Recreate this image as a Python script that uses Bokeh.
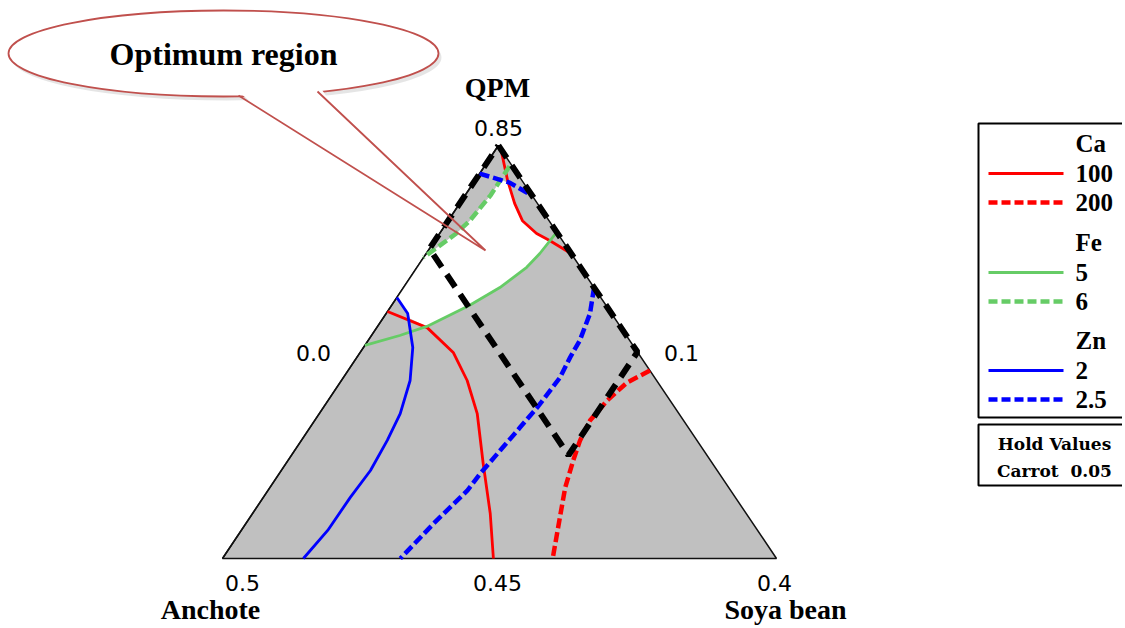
from bokeh.plotting import figure
from bokeh.models import Range1d
from bokeh.core.properties import value
from bokeh.embed import file_html
from bokeh.resources import INLINE

# ---------------- data (pseudo-component fractions: QPM = top, Soya bean = right) -------------
ca100_a_qpm = [0.988, 0.915, 0.860, 0.818, 0.787, 0.770, 0.741]
ca100_a_soya = [0.011, 0.059, 0.099, 0.134, 0.175, 0.207, 0.257]
ca100_b_qpm = [0.598, 0.559, 0.499, 0.431, 0.351, 0.230, 0.109, 0.0]
ca100_b_soya = [0.0, 0.091, 0.168, 0.227, 0.285, 0.356, 0.429, 0.489]
ca200_qpm = [0.455, 0.426, 0.383, 0.334, 0.286, 0.237, 0.172, 0.109, 0.0]
ca200_soya = [0.545, 0.518, 0.504, 0.497, 0.503, 0.515, 0.533, 0.556, 0.596]

fe5_qpm = [0.516, 0.540, 0.562, 0.613, 0.656, 0.705, 0.7385, 0.790]
fe5_soya = [0.0, 0.051, 0.089, 0.141, 0.174, 0.198, 0.205, 0.210]
fe6_qpm = [0.950, 0.880, 0.818, 0.787, 0.729]
fe6_soya = [0.045, 0.046, 0.039, 0.030, 0.0]

zn2_qpm = [0.632, 0.593, 0.511, 0.431, 0.351, 0.286, 0.213, 0.148, 0.068, 0.0]
zn2_soya = [0.0, 0.039, 0.089, 0.124, 0.146, 0.155, 0.161, 0.157, 0.156, 0.146]
zn25_a_qpm = [0.932, 0.910, 0.879]
zn25_a_soya = [0.0, 0.065, 0.121]
zn25_b_qpm = [0.656, 0.593, 0.528, 0.487, 0.438, 0.407, 0.366, 0.317, 0.262, 0.206, 0.165, 0.085, 0.0]
zn25_b_soya = [0.344, 0.368, 0.382, 0.385, 0.391, 0.389, 0.386, 0.379, 0.371, 0.363, 0.360, 0.339, 0.321]

# optimum (white) region boundary
opt_qpm = [0.729, 0.632, 0.593, 0.581, 0.561, 0.613, 0.656, 0.705, 0.7385, 0.770,
           0.787, 0.818, 0.860, 0.910, 0.917, 0.880, 0.818, 0.787, 0.729]
opt_soya = [0.0, 0.0, 0.039, 0.049, 0.090, 0.141, 0.174, 0.198, 0.205, 0.207,
            0.175, 0.134, 0.099, 0.062, 0.046, 0.046, 0.039, 0.030, 0.0]

# constraint region (black dashed): vertices
cons_qpm = [1.0, 0.5, 0.25, 0.75, 1.0]
cons_soya = [0.0, 0.5, 0.5, 0.0, 0.0]

tick_labels = ["0.85", "0.0", "0.1", "0.5", "0.45", "0.4"]
axis_titles = ["QPM", "Anchote", "Soya bean"]
legend_groups = ["Ca", "Fe", "Zn"]
legend_levels = [["100", "200"], ["5", "6"], ["2", "2.5"]]
legend_colors = ["#ff0000", "#66cc66", "#0000ff"]
hold_lines = ["Hold Values", "Carrot\u00a0 0.05"]

# ---------------- layout helpers ----------------
TOPX = 0.498


def tern(qpm, soya):
    return [s + TOPX * q for q, s in zip(qpm, soya)], list(qpm)


def px(x, y):
    # picture pixel -> data coordinates
    return (x - 222) / 554.0, (558 - y) / 413.0


W, H = 1122, 626
p = figure(width=W, height=H, output_backend="svg", toolbar_location=None,
           x_range=Range1d(px(0, 0)[0], px(W, 0)[0]),
           y_range=Range1d(px(0, H)[1], px(0, 0)[1]),
           min_border=0, outline_line_color=None)
p.axis.visible = False
p.grid.visible = False
p.background_fill_color = "white"
p.border_fill_color = "white"

# triangle background
tx, ty = tern([0, 0, 1], [0, 1, 0])
p.patch(tx, ty, fill_color="#c0c0c0", line_color="#111111", line_width=1.5)

# optimum region
ox, oy = tern(opt_qpm, opt_soya)
p.patch(ox, oy, fill_color="white", line_color=None)
lx, ly = tern([0.0, 1.0], [0.0, 0.0])
p.line(lx, ly, line_color="#111111", line_width=1.5)

# contours
RED, GREEN, BLUE = legend_colors


def curve(q, s, color, dashed):
    xs, ys = tern(q, s)
    if dashed:
        p.line(xs, ys, line_color=color, line_width=4.5, line_dash="10 4", line_join="round")
    else:
        p.line(xs, ys, line_color=color, line_width=2.8, line_join="round")


curve(ca100_a_qpm, ca100_a_soya, RED, False)
curve(ca100_b_qpm, ca100_b_soya, RED, False)
curve(ca200_qpm, ca200_soya, RED, True)
curve(fe5_qpm, fe5_soya, GREEN, False)
curve(fe6_qpm, fe6_soya, GREEN, True)
curve(zn2_qpm, zn2_soya, BLUE, False)
curve(zn25_a_qpm, zn25_a_soya, BLUE, True)
curve(zn25_b_qpm, zn25_b_soya, BLUE, True)

# constraint polygon
cx, cy = tern(cons_qpm, cons_soya)
p.line(cx, cy, line_color="black", line_width=6, line_dash="15 9")

# ---------------- callout ----------------
ecx, ecy = px(223, 53)
ew, eh = 430 / 554.0, 86 / 413.0
sx, sy = px(226, 57)
p.ellipse([sx], [sy], width=ew, height=eh, fill_color="#000000", fill_alpha=0.10, line_color=None)
p.ellipse([ecx], [ecy], width=ew, height=eh, fill_color="white", line_color="#c0504d", line_width=1.8)
b1 = px(238, 95); b2 = px(317, 91); tip = px(485, 250)
cover = [px(236, 90), px(319, 86), px(334, 107), px(263, 111)]
p.patch([c[0] for c in cover], [c[1] for c in cover], fill_color="white", line_color=None)
p.line([b1[0], tip[0], b2[0]], [b1[1], tip[1], b2[1]], line_color="#c0504d", line_width=1.8)
t = px(223, 53)
p.text([t[0]], [t[1]], text=["Optimum region"], text_font=value("Liberation Serif"),
       text_font_style="bold", text_font_size="32px", text_align="center",
       text_baseline="middle", text_color="black")

# ---------------- labels ----------------
tick_pos = [(498, 127), (313, 352), (681, 352), (242, 582), (497, 582), (774, 582)]
tpx = [px(*a) for a in tick_pos]
p.text([a[0] for a in tpx], [a[1] for a in tpx], text=tick_labels,
       text_font=value("DejaVu Sans"), text_font_size="22px", text_align="center",
       text_baseline="middle", text_color="black")

title_pos = [(497, 87), (210, 609), (785, 609)]
ttp = [px(*a) for a in title_pos]
p.text([a[0] for a in ttp], [a[1] for a in ttp], text=axis_titles,
       text_font=value("Liberation Serif"), text_font_style="bold", text_font_size="28px",
       text_align="center", text_baseline="middle", text_color="black")

# ---------------- legend ----------------
bx0, by0 = px(978, 123)
bx1, by1 = px(1140, 417)
p.quad(left=[bx0], right=[bx1], top=[by0], bottom=[by1], fill_color=None,
       line_color="black", line_width=2)
hx0, hy0 = px(978, 424)
hx1, hy1 = px(1140, 485)
p.quad(left=[hx0], right=[hx1], top=[hy0], bottom=[hy1], fill_color=None,
       line_color="black", line_width=2)

group_y = [143, 242, 340]
row_gap = [30, 59]
lx_txt = px(1075, 0)[0]
lx0, lx1 = px(988, 0)[0], px(1063, 0)[0]
txt_x, txt_y, txt_s = [], [], []
for g, lvls, col, gy in zip(legend_groups, legend_levels, legend_colors, group_y):
    txt_x.append(lx_txt); txt_y.append(px(0, gy)[1]); txt_s.append(g)
    for i, lv in enumerate(lvls):
        yy = px(0, gy + row_gap[i])[1]
        txt_x.append(lx_txt); txt_y.append(yy); txt_s.append(lv)
        if i == 0:
            p.line([lx0, lx1], [yy, yy], line_color=col, line_width=2.8)
        else:
            p.line([lx0, lx1], [yy, yy], line_color=col, line_width=4.5, line_dash="9 4")
p.text(txt_x, txt_y, text=txt_s, text_font=value("Liberation Serif"), text_font_style="bold",
       text_font_size="25px", text_align="left", text_baseline="middle", text_color="black")

hp = [px(1054, 443), px(1054, 470)]
p.text([a[0] for a in hp], [a[1] for a in hp], text=hold_lines,
       text_font=value("DejaVu Serif"), text_font_style="bold", text_font_size="17px",
       text_align="center", text_baseline="middle", text_color="black")

open("out.html", "w").write(file_html(p, INLINE))
